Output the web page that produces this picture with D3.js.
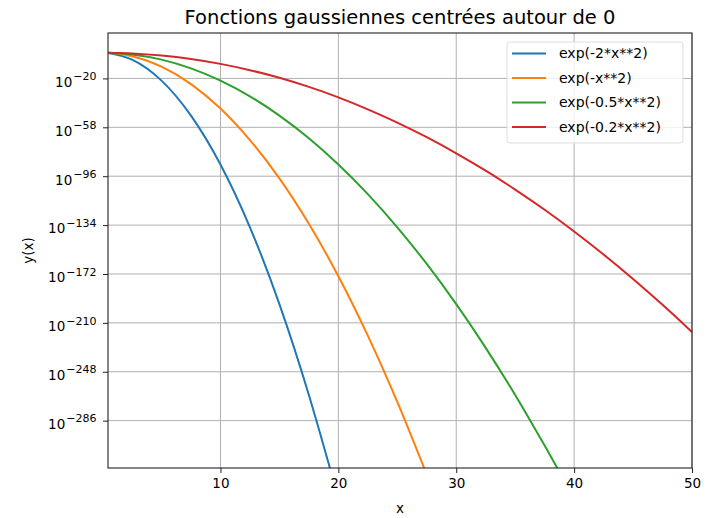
<!DOCTYPE html>
<html>
<head>
<meta charset="utf-8">
<script src="https://cdn.jsdelivr.net/npm/d3@7"></script>
<style>
body { margin: 0; background: #fff; }
text { font-family: "DejaVu Sans", sans-serif; fill: #000; }
</style>
</head>
<body>
<div id="chart"></div>
<script>
var w = 710,
	h = 518,
	margin = {top: 33, right: 18, bottom: 50, left: 108}

// series: x, and the power of ten of y
var names = ['exp(-2*x**2)', 'exp(-x**2)', 'exp(-0.5*x**2)', 'exp(-0.2*x**2)']
var colors = ['#1f77b4', '#ff7f0e', '#2ca02c', '#d62728']

var xBlue = [0.5, 2.5, 5, 7.5, 10, 12.5, 15, 17.5, 19.3]
var eBlue = [-0.22, -5.4, -21.7, -48.9, -86.9, -135.7, -195.4, -266.0, -323.3]

var xOrange = [0.5, 2.5, 5, 7.5, 10, 12.5, 15, 17.5, 20, 22.5, 25, 27.3]
var eOrange = [-0.11, -2.7, -10.9, -24.4, -43.4, -67.9, -97.7, -133.0, -173.7, -219.9, -271.4, -323.3]

var xGreen = [0.5, 2.5, 5, 7.5, 10, 12.5, 15, 17.5, 20, 22.5, 25, 27.5, 30, 32.5, 35, 37.5, 38.6]
var eGreen = [-0.05, -1.4, -5.4, -12.2, -21.7, -33.9, -48.9, -66.5, -86.9, -109.9, -135.7, -164.2, -195.4, -229.4, -266.0, -305.4, -323.3]

var xRed = [0.5, 2.5, 5, 7.5, 10, 12.5, 15, 17.5, 20, 22.5, 25, 27.5, 30, 32.5, 35, 37.5, 40, 42.5, 45, 47.5, 50]
var eRed = [-0.02, -0.54, -2.2, -4.9, -8.7, -13.6, -19.5, -26.6, -34.7, -44.0, -54.3, -65.7, -78.2, -91.7, -106.4, -122.1, -139.0, -156.9, -175.9, -196.0, -217.1]

var xTicks = [10, 20, 30, 40, 50]
var yTicks = [-20, -58, -96, -134, -172, -210, -248, -286]

var series = [[xBlue, eBlue], [xOrange, eOrange], [xGreen, eGreen], [xRed, eRed]]

var x = d3.scaleLinear().domain([0.46, 50]).range([margin.left, w - margin.right])
var y = d3.scaleLinear().domain([15.3, -322.8]).range([margin.top, h - margin.bottom])

var svg = d3.select('#chart').append('svg')
	.attr('width', w)
	.attr('height', h)

svg.append('defs').append('clipPath').attr('id', 'clip')
	.append('rect')
	.attr('x', margin.left).attr('y', margin.top)
	.attr('width', w - margin.left - margin.right)
	.attr('height', h - margin.top - margin.bottom)

// grid
svg.append('g').selectAll('line').data(xTicks).enter().append('line')
	.attr('x1', x).attr('x2', x)
	.attr('y1', margin.top).attr('y2', h - margin.bottom)
	.style('stroke', '#b0b0b0').style('stroke-width', 1)
svg.append('g').selectAll('line').data(yTicks).enter().append('line')
	.attr('y1', y).attr('y2', y)
	.attr('x1', margin.left).attr('x2', w - margin.right)
	.style('stroke', '#b0b0b0').style('stroke-width', 1)

// curves
var line = d3.line()
	.x(function(d) { return x(d[0]) })
	.y(function(d) { return y(d[1]) })
	.curve(d3.curveMonotoneX)

svg.append('g').attr('clip-path', 'url(#clip)')
	.selectAll('path').data(series).enter().append('path')
	.attr('d', function(s) { return line(d3.zip(s[0], s[1])) })
	.style('fill', 'none')
	.style('stroke', function(s, i) { return colors[i] })
	.style('stroke-width', 2)

// axes
var xAxis = svg.append('g')
	.attr('transform', 'translate(0,' + (h - margin.bottom) + ')')
	.call(d3.axisBottom(x).tickValues(xTicks).tickSize(5).tickPadding(5).tickSizeOuter(0))
xAxis.selectAll('text').style('font-size', '13.5px').style('font-family', 'DejaVu Sans')

var yAxis = svg.append('g')
	.attr('transform', 'translate(' + margin.left + ',0)')
	.call(d3.axisLeft(y).tickValues(yTicks).tickSize(5).tickSizeOuter(0).tickFormat(''))
yAxis.selectAll('.tick').append('text')
	.attr('x', -11.5).attr('dy', '0.58em')
	.attr('text-anchor', 'end')
	.style('font-size', '13.5px')
	.call(function(t) {
		t.append('tspan').text('10')
		t.append('tspan').attr('dx', '1').attr('dy', '-0.6em').style('font-size', '11px')
			.text(function(d) { return '\u2212' + Math.abs(d) })
	})

svg.selectAll('.domain').remove()
svg.selectAll('.tick line').style('stroke', '#222')

svg.append('rect')
	.attr('x', margin.left).attr('y', margin.top)
	.attr('width', w - margin.left - margin.right)
	.attr('height', h - margin.top - margin.bottom)
	.style('fill', 'none').style('stroke', '#222').style('stroke-width', 1.1)

// titles
svg.append('text')
	.attr('x', (margin.left + w - margin.right) / 2).attr('y', 24)
	.attr('text-anchor', 'middle').style('font-size', '19.5px')
	.text('Fonctions gaussiennes centrées autour de 0')
svg.append('text')
	.attr('x', (margin.left + w - margin.right) / 2).attr('y', 513)
	.attr('text-anchor', 'middle').style('font-size', '13.5px')
	.text('x')
svg.append('text')
	.attr('transform', 'translate(33,' + ((margin.top + h - margin.bottom) / 2) + ') rotate(-90)')
	.attr('text-anchor', 'middle').style('font-size', '13.5px')
	.text('y(x)')

// legend
var legend = svg.append('g').attr('transform', 'translate(507,42)')
legend.append('rect')
	.attr('width', 176).attr('height', 101).attr('rx', 3)
	.style('fill', '#fff').style('fill-opacity', 0.8)
	.style('stroke', '#ddd')
var item = legend.selectAll('g.item').data(names).enter().append('g')
	.attr('class', 'item')
	.attr('transform', function(d, i) { return 'translate(0,' + (11.5 + i * 24.5) + ')' })
item.append('line')
	.attr('x1', 5).attr('x2', 39)
	.style('stroke', function(d, i) { return colors[i] })
	.style('stroke-width', 2)
item.append('text')
	.attr('x', 52).attr('dy', '0.35em')
	.style('font-size', '14px')
	.text(function(d) { return d })
</script>
</body>
</html>
